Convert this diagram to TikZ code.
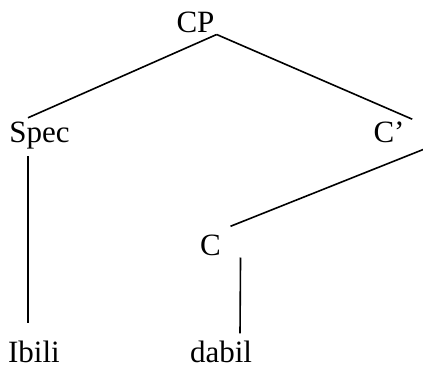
\documentclass[tikz,border=0pt]{standalone}
\usepackage{fontspec}
\setmainfont{Liberation Serif}
\usepackage{tikz}

\tikzset{
  lbl/.style={inner sep=0pt, anchor=base, font=\fontsize{31}{37}\selectfont},
  branch/.style={line width=1.6pt}
}

\begin{document}
\begin{tikzpicture}[x=1pt, y=-1pt]

  % cornice (423 x 366)
  \useasboundingbox (0,0) rectangle (423,366);

  % etichette dei nodi
  \node[lbl] (cp)    at (195.5,33) {CP};
  \node[lbl] (spec)  at (39.5,143) {Spec};
  \node[lbl] (cbar)  at (389,143)  {C’};
  \node[lbl] (c)     at (210.5,255) {C};
  \node[lbl] (ibili) at (34,362)   {Ibili};
  \node[lbl] (dabil) at (221,362)  {dabil};

  % rami
  \begin{scope}
    \clip (0,0) rectangle (423,366);
    \draw[branch] ([shift={(2,1)}]cp.south east) -- ([shift={(-11.5,-4.5)}]spec.north);
    \draw[branch] ([shift={(2,1)}]cp.south east) -- ([shift={(7.5,-3)}]cbar.north east);
    \draw[branch] ([shift={(-11.5,6.5)}]spec.south) -- ([shift={(-6,-17)}]ibili.north);
    \draw[branch] ([shift={(21,5)}]cbar.south east) -- ([shift={(9.5,-8)}]c.north east);
    \draw[branch] ([shift={(19.5,2)}]c.south east) -- ([shift={(19,-7)}]dabil.north);
  \end{scope}

\end{tikzpicture}
\end{document}
